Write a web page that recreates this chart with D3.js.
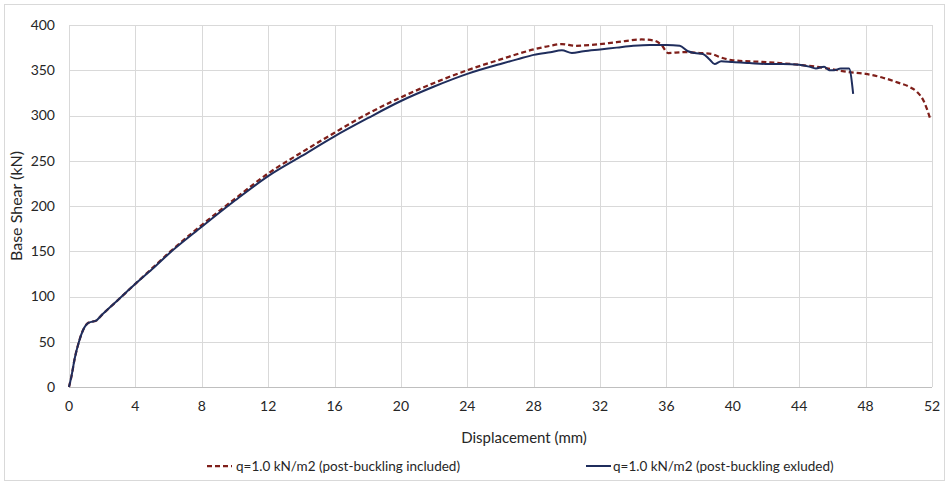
<!DOCTYPE html>
<html>
<head>
<meta charset="utf-8">
<script src="https://cdn.jsdelivr.net/npm/d3@7"></script>
<style>
  html, body { margin: 0; padding: 0; background: #fff; }
  svg { display: block; }
  text { font-family: Lato, "Open Sans", sans-serif; fill: #262626; }
</style>
</head>
<body>
<svg id="chart" width="949" height="485"></svg>
<script>
// ---- data ----
const xTicks = [0, 4, 8, 12, 16, 20, 24, 28, 32, 36, 40, 44, 48, 52];
const yTicks = [0, 50, 100, 150, 200, 250, 300, 350, 400];

const seriesNames = [
  "q=1.0 kN/m2 (post-buckling included)",
  "q=1.0 kN/m2 (post-buckling exluded)"
];

// post-buckling included (dashed)
const includedDisp = [0, 0.15, 0.35, 0.6, 0.85, 1.1, 1.35, 1.6, 2, 3, 4, 5, 6, 8, 10, 12, 14, 16, 18, 20, 22, 24, 26, 28, 29, 29.7, 30.5, 31.5, 33, 34.5, 35.2, 35.7, 36.1, 37, 38, 38.7, 39.3, 40, 42, 44, 45, 46, 47, 48, 49, 50, 50.6, 51.1, 51.5, 51.9];
const includedShear = [0, 12, 32, 50, 63, 70, 72, 73, 80, 97, 114, 131, 148, 179, 208, 236, 259, 281, 302, 320, 336, 350, 362, 373, 377, 379, 377, 378, 381, 384, 383, 378, 369, 370, 369, 368, 364, 361, 359, 356, 354, 351, 348, 346, 342, 336, 332, 326, 316, 296];

// post-buckling excluded (solid)
const excludedDisp = [0, 0.15, 0.35, 0.6, 0.85, 1.1, 1.35, 1.6, 2, 3, 4, 5, 6, 8, 10, 12, 14, 16, 18, 20, 22, 24, 26, 27, 28, 29, 29.7, 30.3, 31, 32, 33, 34, 35, 36, 36.8, 37.3, 37.7, 38.2, 38.6, 38.9, 39.3, 40, 41, 42, 43, 44, 44.6, 45.0, 45.5, 45.8, 46.1, 46.5, 47.0, 47.25];
const excludedShear = [0, 12, 32, 50, 63, 70, 72, 73, 80, 97, 114, 130, 147, 177, 206, 233, 255, 277, 297, 316, 332, 346, 357, 362, 367, 370, 372, 369, 371, 373, 375, 377, 378, 378, 377, 371, 369, 368, 362, 357, 360, 359, 358, 357, 357, 356, 354, 352, 354, 350, 350, 352, 352, 324];

// ---- layout ----
const svg = d3.select("#chart");
const padL = 69, padR = 932, padT = 25, padB = 387;

const x = d3.scaleLinear().domain([0, 52]).range([padL, padR]);
const y = d3.scaleLinear().domain([0, 400]).range([padB, padT]);

// chart border
svg.append("rect")
  .attr("x", 4.5).attr("y", 4.5).attr("width", 940).attr("height", 476)
  .attr("fill", "#fff").attr("stroke", "#d9d9d9").attr("stroke-width", 1);

// gridlines
svg.append("g").selectAll("line").data(yTicks.filter(d => d > 0)).join("line")
  .attr("x1", padL).attr("x2", padR)
  .attr("y1", d => Math.round(y(d)) + 0.5).attr("y2", d => Math.round(y(d)) + 0.5)
  .attr("stroke", "#d9d9d9").attr("stroke-width", 1);
svg.append("g").selectAll("line").data(xTicks).join("line")
  .attr("y1", padT).attr("y2", padB)
  .attr("x1", d => Math.round(x(d)) + 0.5).attr("x2", d => Math.round(x(d)) + 0.5)
  .attr("stroke", "#d9d9d9").attr("stroke-width", 1);

// x axis line
svg.append("line")
  .attr("x1", padL).attr("x2", padR)
  .attr("y1", Math.round(y(0)) + 0.5).attr("y2", Math.round(y(0)) + 0.5)
  .attr("stroke", "#bfbfbf").attr("stroke-width", 1);

// tick labels
svg.append("g").selectAll("text").data(yTicks).join("text")
  .attr("x", 55).attr("y", d => y(d)).attr("dy", "0.35em")
  .attr("text-anchor", "end").attr("font-size", 14)
  .text(d => d);
svg.append("g").selectAll("text").data(xTicks).join("text")
  .attr("x", d => x(d)).attr("y", 411)
  .attr("text-anchor", "middle").attr("font-size", 14)
  .text(d => d);

// axis titles
svg.append("text")
  .attr("x", 524).attr("y", 443)
  .attr("text-anchor", "middle").attr("font-size", 15)
  .text("Displacement (mm)");
svg.append("text")
  .attr("transform", `translate(22,${(padT + padB) / 2}) rotate(-90)`)
  .attr("text-anchor", "middle").attr("font-size", 16)
  .text("Base Shear (kN)");

// lines
const line = d3.line().x(d => x(d[0])).y(d => y(d[1])).curve(d3.curveMonotoneX);
const incData = includedDisp.map((d, i) => [d, includedShear[i]]);
const excData = excludedDisp.map((d, i) => [d, excludedShear[i]]);

const dashColor = "#7f1f1a", solidColor = "#1f2d5c";

svg.append("path").datum(incData)
  .attr("d", line).attr("fill", "none")
  .attr("stroke", dashColor).attr("stroke-width", 2.25)
  .attr("stroke-dasharray", "5,3");
svg.append("path").datum(excData)
  .attr("d", line).attr("fill", "none")
  .attr("stroke", solidColor).attr("stroke-width", 2);

// legend
const legY = 466;
const leg = svg.append("g");
leg.append("line").attr("x1", 207).attr("x2", 232).attr("y1", legY).attr("y2", legY)
  .attr("stroke", dashColor).attr("stroke-width", 2.25).attr("stroke-dasharray", "5,3");
leg.append("text").attr("x", 236).attr("y", legY).attr("dy", "0.35em")
  .attr("font-size", 13.5).text(seriesNames[0]);
leg.append("line").attr("x1", 586).attr("x2", 611).attr("y1", legY).attr("y2", legY)
  .attr("stroke", solidColor).attr("stroke-width", 2);
leg.append("text").attr("x", 613).attr("y", legY).attr("dy", "0.35em")
  .attr("font-size", 13.5).text(seriesNames[1]);
</script>
</body>
</html>
